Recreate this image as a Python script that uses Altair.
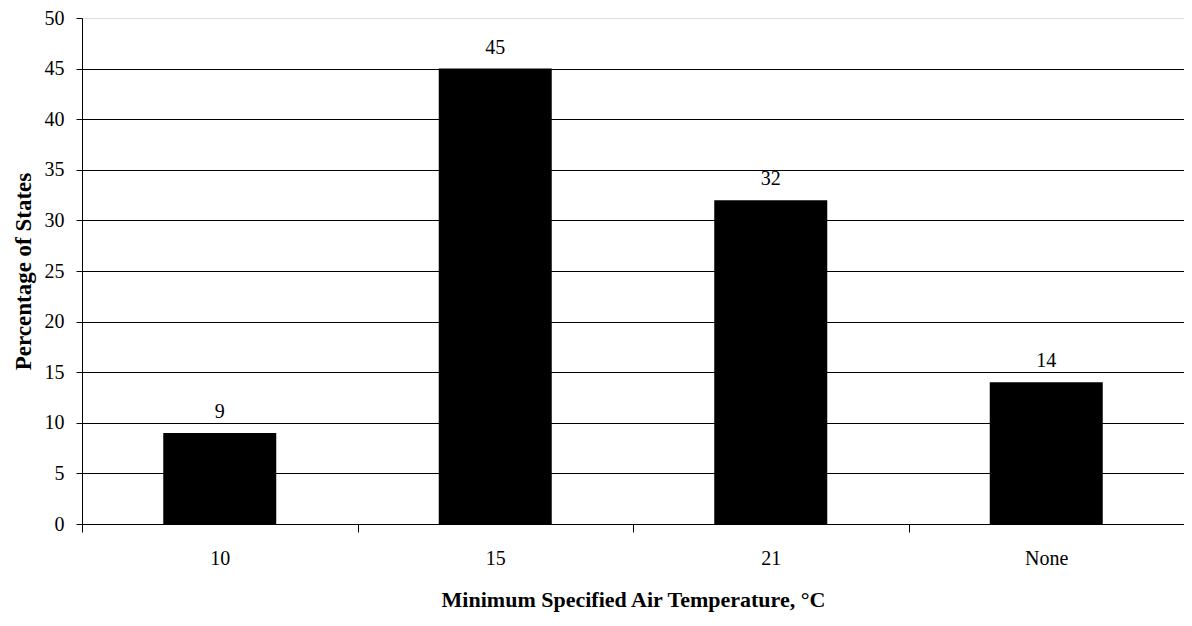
import altair as alt
import pandas as pd

categories = ["10", "15", "21", "None"]
percentages = [9, 45, 32, 14]

df = pd.DataFrame({"temp": categories, "pct": percentages})

FONT = "Liberation Serif"

x_enc = alt.X(
    "temp:N",
    sort=categories,
    scale=alt.Scale(paddingInner=0, paddingOuter=0),
    axis=alt.Axis(
        title="Minimum Specified Air Temperature, °C",
        titleFont=FONT, titleFontSize=22, titleFontWeight="bold", titleColor="black",
        titlePadding=21,
        labelFont=FONT, labelFontSize=20, labelColor="black", labelAngle=0,
        labelPadding=16,
        tickBand="extent", tickSize=8, tickColor="black", domainColor="black",
        grid=False,
    ),
)

y_enc = alt.Y(
    "pct:Q",
    scale=alt.Scale(domain=[0, 50], nice=False),
    axis=alt.Axis(
        title="Percentage of States",
        titleFont=FONT, titleFontSize=23, titleFontWeight="bold", titleColor="black",
        titlePadding=9,
        labelFont=FONT, labelFontSize=20, labelColor="black",
        labelPadding=12,
        values=list(range(0, 51, 5)),
        tickSize=6, tickColor="black", domainColor="black",
        grid=True,
        gridColor={"condition": {"test": "datum.value === 50", "value": "transparent"}, "value": "black"},
        gridOpacity=1, gridWidth=1,
    ),
)

bars = alt.Chart(df).mark_bar(size=113, color="black").encode(x=x_enc, y=y_enc)

labels = alt.Chart(df).mark_text(
    font=FONT, fontSize=20, color="black", baseline="alphabetic", dy=-15
).encode(x=alt.X("temp:N", sort=categories), y="pct:Q", text="pct:Q")

chart = (
    alt.layer(bars, labels)
    .properties(
        width=1102,
        height=506,
        autosize=alt.AutoSizeParams(type="none"),
        padding={"left": 74, "top": 10, "right": 0, "bottom": 94},
    )
    .configure_view(stroke=None)
    .configure(background="white")
)

chart.save("out.html", embed_options={"renderer": "svg", "actions": False})
